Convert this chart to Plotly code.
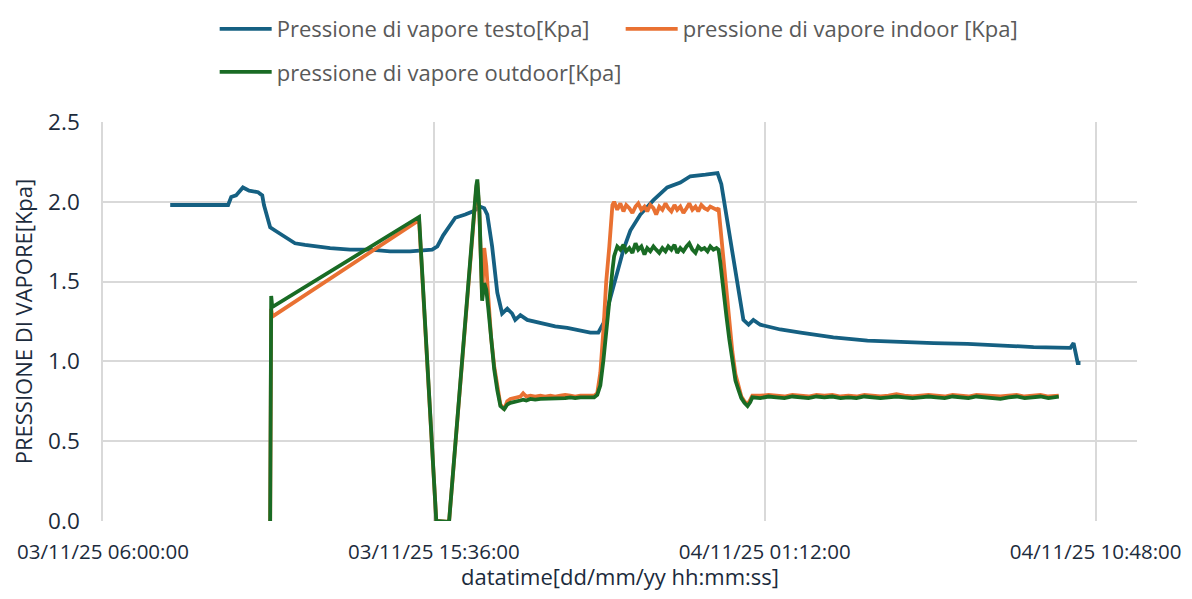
import pandas as pd
import plotly.graph_objects as go

INIZIO = pd.Timestamp("2025-11-03 06:00:00")

# ---- Testo (ore trascorse dalle 03/11/25 06:00) ----
ore_testo = [
    1.95, 3.63, 3.72, 3.86, 4.06, 4.24, 4.50, 4.62, 4.67, 4.76,
    4.85, 4.99, 5.28, 5.57, 5.86, 6.15, 6.59, 7.17, 7.75, 8.33,
    8.91, 9.55, 9.70, 9.87, 10.04, 10.22, 10.51, 10.74, 10.94, 11.06,
    11.15, 11.29, 11.44, 11.58, 11.73, 11.87, 11.96, 12.11, 12.31, 12.69,
    13.12, 13.47, 13.85, 14.14, 14.37, 14.52, 14.66, 14.81, 14.95, 15.10,
    15.30, 15.59, 15.97, 16.37, 16.75, 17.04, 17.48, 17.83, 17.94, 18.06,
    18.20, 18.41, 18.58, 18.73, 18.87, 19.07, 19.65, 20.24, 21.19, 22.18,
    23.14, 24.10, 25.08, 26.04, 27.00, 28.07, 28.16, 28.28, 28.36,
]
pv_testo = [
    1.98, 1.98, 2.03, 2.04, 2.09, 2.07, 2.06, 2.04, 1.98, 1.90,
    1.84, 1.82, 1.78, 1.74, 1.73, 1.72, 1.71, 1.70, 1.70, 1.69,
    1.69, 1.70, 1.72, 1.79, 1.84, 1.90, 1.92, 1.94, 1.97, 1.96,
    1.92, 1.72, 1.43, 1.30, 1.33, 1.30, 1.26, 1.29, 1.26, 1.24,
    1.22, 1.21, 1.19, 1.18, 1.18, 1.24, 1.35, 1.47, 1.59, 1.70,
    1.82, 1.92, 2.01, 2.09, 2.12, 2.16, 2.17, 2.18, 2.11, 1.95,
    1.74, 1.47, 1.26, 1.23, 1.26, 1.23, 1.20, 1.18, 1.15, 1.13,
    1.12, 1.115, 1.11, 1.10, 1.09, 1.085, 1.115, 0.99, 0.99,
]

# ---- Sensori indoor / outdoor (asse temporale comune) ----
ore_sensori = [
    4.85, 4.88, 4.91, 9.17, 9.67, 10.04,
    10.83, 10.86, 10.92, 11.00, 11.06, 11.12, 11.18, 11.26, 11.35, 11.44,
    11.53, 11.64, 11.73, 11.82, 11.96, 12.11, 12.19, 12.28, 12.40, 12.54,
    12.69, 12.83, 12.98, 13.12, 13.27, 13.41, 13.56, 13.70, 13.85, 13.99,
    14.14, 14.25, 14.34, 14.43, 14.52, 14.60, 14.69, 14.78,
    14.83, 14.92, 15.01, 15.10, 15.18, 15.27, 15.36, 15.45, 15.53, 15.62,
    15.71, 15.79, 15.88, 15.97, 16.05, 16.14, 16.23, 16.32, 16.40, 16.49,
    16.58, 16.66, 16.75, 16.84, 16.93, 17.01, 17.10, 17.19, 17.27, 17.36,
    17.45, 17.54, 17.62, 17.71, 17.80, 17.86,
    17.91, 18.00, 18.09, 18.17, 18.26, 18.35, 18.44, 18.52, 18.61, 18.70, 18.78,
    18.84, 19.07, 19.31, 19.54, 19.77, 20.00, 20.24, 20.47, 20.70, 20.93,
    21.16, 21.40, 21.63, 21.86, 22.09, 22.33, 22.56, 22.79, 23.02, 23.25,
    23.49, 23.72, 23.95, 24.18, 24.42, 24.65, 24.88, 25.11, 25.34, 25.58,
    25.81, 26.04, 26.27, 26.51, 26.74, 26.97, 27.20, 27.43, 27.67, 27.73,
]
pv_indoor = [
    0.0, 1.33, 1.28, 1.885, 0.0, -0.005,
    2.08, 2.12, 1.93, 1.40, 1.71, 1.60, 1.40, 1.15, 0.97, 0.83,
    0.73, 0.70, 0.75, 0.765, 0.77, 0.78, 0.80, 0.78, 0.785, 0.78,
    0.785, 0.78, 0.785, 0.78, 0.785, 0.79, 0.785, 0.78, 0.785, 0.785,
    0.78, 0.785, 0.80, 0.93, 1.20, 1.50, 1.72, 1.98,
    2.00, 1.95, 1.99, 1.94, 1.98, 1.96, 1.93, 1.97, 1.99, 1.95,
    1.97, 1.94, 1.98, 1.96, 1.92, 1.97, 1.95, 1.99, 1.96, 1.94,
    1.98, 1.95, 1.97, 1.93, 1.96, 1.99, 1.95, 1.97, 1.94, 1.98,
    1.96, 1.95, 1.97, 1.96, 1.95, 1.96,
    1.85, 1.60, 1.40, 1.22, 1.06, 0.92, 0.84, 0.78, 0.75, 0.73, 0.76,
    0.785, 0.785, 0.79, 0.785, 0.78, 0.79, 0.785, 0.78, 0.79, 0.785,
    0.79, 0.78, 0.785, 0.78, 0.79, 0.785, 0.78, 0.785, 0.795, 0.785,
    0.78, 0.785, 0.79, 0.785, 0.78, 0.79, 0.785, 0.78, 0.79, 0.785,
    0.78, 0.78, 0.785, 0.79, 0.78, 0.785, 0.79, 0.78, 0.785, 0.785,
]
pv_outdoor = [
    0.0, 1.41, 1.34, 1.905, 0.0, -0.005,
    2.10, 2.14, 1.95, 1.38, 1.49, 1.45, 1.33, 1.12, 0.95, 0.82,
    0.72, 0.70, 0.73, 0.74, 0.75, 0.755, 0.76, 0.755, 0.765, 0.76,
    0.765, 0.765, 0.77, 0.765, 0.77, 0.77, 0.775, 0.77, 0.775, 0.775,
    0.775, 0.775, 0.79, 0.85, 1.01, 1.20, 1.38, 1.57,
    1.66, 1.72, 1.70, 1.73, 1.69, 1.71, 1.68, 1.74, 1.70, 1.72,
    1.67, 1.71, 1.69, 1.72, 1.70, 1.68, 1.71, 1.69, 1.72, 1.70,
    1.73, 1.68, 1.71, 1.69, 1.72, 1.74, 1.70, 1.68, 1.72, 1.70,
    1.71, 1.69, 1.72, 1.70, 1.71, 1.70,
    1.62, 1.43, 1.28, 1.14, 1.00, 0.88, 0.82, 0.77, 0.74, 0.72, 0.745,
    0.775, 0.77, 0.78, 0.775, 0.77, 0.78, 0.775, 0.77, 0.78, 0.775,
    0.78, 0.77, 0.775, 0.77, 0.78, 0.775, 0.77, 0.775, 0.78, 0.775,
    0.77, 0.775, 0.78, 0.775, 0.77, 0.78, 0.775, 0.77, 0.78, 0.775,
    0.77, 0.765, 0.775, 0.78, 0.77, 0.775, 0.78, 0.77, 0.775, 0.78,
]

tick_date = ["2025-11-03 06:00:00", "2025-11-03 15:36:00",
             "2025-11-04 01:12:00", "2025-11-04 10:48:00"]
tick_testi = ["03/11/25 06:00:00", "03/11/25 15:36:00",
              "04/11/25 01:12:00", "04/11/25 10:48:00"]
y_tick = [0.0, 0.5, 1.0, 1.5, 2.0, 2.5]

nomi = ["Pressione di vapore testo[Kpa]",
        "pressione di vapore indoor [Kpa]",
        "pressione di vapore outdoor[Kpa]"]
colori = ["#156082", "#E97132", "#196B24"]

t_testo = INIZIO + pd.to_timedelta(ore_testo, unit="h")
t_sens = INIZIO + pd.to_timedelta(ore_sensori, unit="h")

FONT = "Open Sans, Liberation Sans, Arial, sans-serif"
GRIGIO = "#595959"
TESTO_ASSI = "#1C2B3C"
GRIGLIA = "#D9D9D9"

fig = go.Figure()
fig.add_trace(go.Scatter(x=t_testo, y=pv_testo, mode="lines", name=nomi[0],
                         line=dict(color=colori[0], width=3.8), legend="legend"))
fig.add_trace(go.Scatter(x=t_sens, y=pv_indoor, mode="lines", name=nomi[1],
                         line=dict(color=colori[1], width=3.8), legend="legend"))
fig.add_trace(go.Scatter(x=t_sens, y=pv_outdoor, mode="lines", name=nomi[2],
                         line=dict(color=colori[2], width=3.8), legend="legend2"))

leg_common = dict(orientation="h", xanchor="left", yanchor="middle",
                  font=dict(family=FONT, size=22, color=GRIGIO),
                  bgcolor="rgba(0,0,0,0)", borderwidth=0,
                  entrywidth=339, entrywidthmode="pixels", itemwidth=52,
                  traceorder="normal")

# The page body adds an 8px offset; the figure fills the rest of the window.
fig.update_layout(
    width=1184, height=583,
    margin=dict(l=95, r=55, t=114, b=70, autoexpand=False),
    paper_bgcolor="white", plot_bgcolor="white",
    font=dict(family=FONT, color=TESTO_ASSI),
    legend=dict(leg_common, x=0.108, y=1.233),
    legend2=dict(leg_common, x=0.108, y=1.125),
    xaxis=dict(
        type="date", automargin=False,
        range=["2025-11-03 06:00:00", "2025-11-04 12:00:00"],
        tickvals=tick_date, ticktext=tick_testi,
        tickfont=dict(family=FONT, size=20.5, color=TESTO_ASSI),
        ticklabeloverflow="allow",
        showgrid=True, gridcolor=GRIGLIA, gridwidth=1.5,
        zeroline=False, showline=False, ticks="",
        ticklabelstandoff=16,
        title=dict(text="datatime[dd/mm/yy hh:mm:ss]",
                   font=dict(family=FONT, size=22, color=TESTO_ASSI), standoff=14),
    ),
    yaxis=dict(
        automargin=False,
        range=[0, 2.5], tickvals=y_tick, tickformat=".1f",
        tickfont=dict(family=FONT, size=22.5, color=TESTO_ASSI),
        showgrid=True, gridcolor=GRIGLIA, gridwidth=1.5,
        zeroline=False, showline=True, linecolor=GRIGLIA, linewidth=1.5,
        ticks="", ticklabelstandoff=17,
        title=dict(text="PRESSIONE DI VAPORE[Kpa]",
                   font=dict(family=FONT, size=22, color=TESTO_ASSI), standoff=10),
    ),
)

fig.write_html("out.html")
